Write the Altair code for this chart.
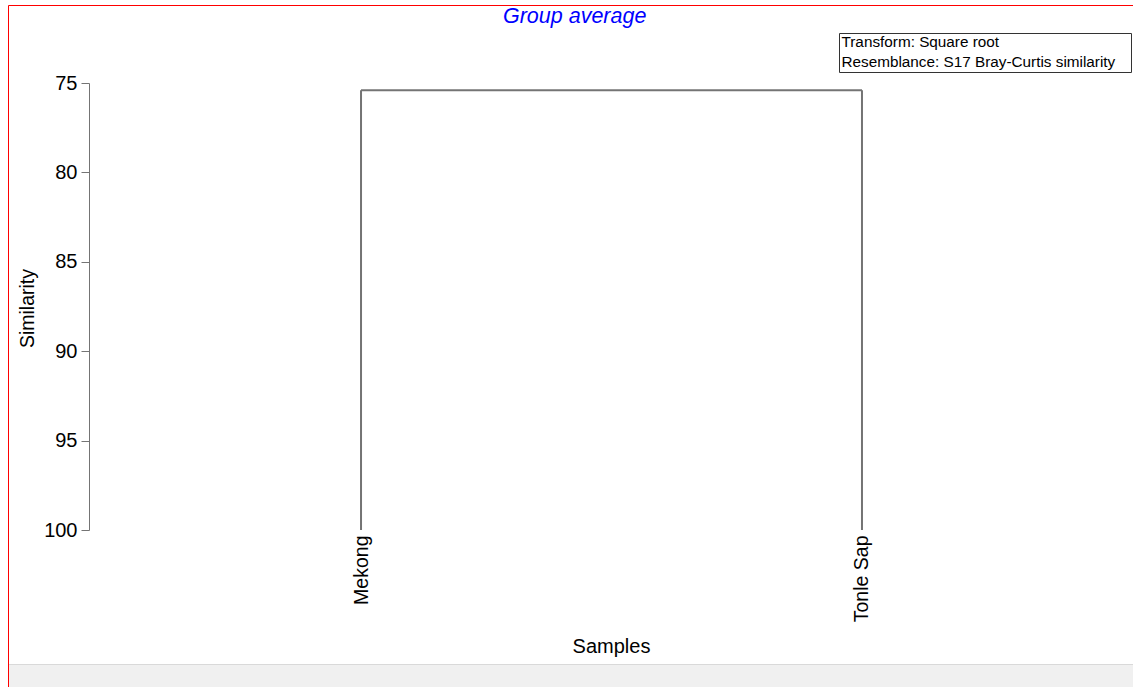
import altair as alt
import pandas as pd

# Dendrogram content
samples = ["Mekong", "Tonle Sap"]
leaf_order = [1, 2]
leaf_similarity = [100, 100]
merge_similarity = 75.4
y_ticks = [75, 80, 85, 90, 95, 100]
legend_lines = ["Transform: Square root", "Resemblance: S17 Bray-Curtis similarity"]
title_text = "Group average"
x_title = "Samples"
y_title = "Similarity"

# Layout (plot area sits at left=89, top=83 inside a 1133x687 canvas)
W, H = 1044, 447
PAD = {"left": 89, "top": 83, "right": 0, "bottom": 157}
FONT = "Liberation Sans"
LINE = "#747474"

stems = pd.DataFrame({
    "sample": samples,
    "pos": leaf_order,
    "low": leaf_similarity,
    "high": [merge_similarity] * len(samples),
})
link = pd.DataFrame({
    "x1": [min(leaf_order)],
    "x2": [max(leaf_order)],
    "sim": [merge_similarity],
})
one = pd.DataFrame({"k": [0]})

x_scale = alt.Scale(domain=[0.457, 2.541], nice=False, zero=False)
y_scale = alt.Scale(domain=[75, 100], reverse=True, nice=False, zero=False)

names = ",".join("'" + s + "'" for s in samples)
positions = ",".join(str(p) for p in leaf_order)
label_expr = f"[{names}][indexof([{positions}], datum.value)]"

x_axis = alt.Axis(
    values=leaf_order, labelExpr=label_expr, labelAngle=270,
    domain=False, ticks=False, grid=False, labelPadding=5,
    labelFont=FONT, labelFontSize=19.5, labelColor="black",
    labelFlush=False, labelOverlap=False,
    title=x_title, titleFont=FONT, titleFontSize=20, titleFontWeight="normal",
    titleColor="black", titleY=122, titleBaseline="alphabetic",
)
y_axis = alt.Axis(
    values=y_ticks, tickSize=8, tickColor=LINE, tickWidth=1,
    domainColor=LINE, domainWidth=1, grid=False,
    labelFont=FONT, labelFontSize=20, labelColor="black", labelPadding=4,
    labelFlush=False,
    title=y_title, titleFont=FONT, titleFontSize=19.5, titleFontWeight="normal",
    titleColor="black", titleAngle=270, titleX=-62, titleY=225,
    titleAlign="center", titleBaseline="middle",
)

# Window frame: red left/top edge and grey status strip
red_left = alt.Chart(one).mark_rule(color="#ff0000", strokeWidth=1).encode(
    x=alt.value(-80.5), y=alt.value(-77.5), y2=alt.value(604))
red_top = alt.Chart(one).mark_rule(color="#ff0000", strokeWidth=1).encode(
    x=alt.value(-80.5), x2=alt.value(1044), y=alt.value(-77.5))
strip = alt.Chart(one).mark_rect(color="#f0f0f0").encode(
    x=alt.value(-80), x2=alt.value(1044), y=alt.value(582), y2=alt.value(604))
strip_line = alt.Chart(one).mark_rule(color="#d9d9d9", strokeWidth=1).encode(
    x=alt.value(-80), x2=alt.value(1044), y=alt.value(581.5))

# Dendrogram branches
stem_layer = alt.Chart(stems).mark_rule(color=LINE, strokeWidth=2).encode(
    x=alt.X("pos:Q", scale=x_scale, axis=x_axis),
    y=alt.Y("low:Q", scale=y_scale, axis=y_axis),
    y2="high:Q",
)
link_layer = alt.Chart(link).mark_rule(color=LINE, strokeWidth=2).encode(
    x=alt.X("x1:Q", scale=x_scale, axis=x_axis),
    x2="x2:Q",
    y=alt.Y("sim:Q", scale=y_scale, axis=y_axis),
)

# Heading
heading = alt.Chart(pd.DataFrame({"t": [title_text]})).mark_text(
    font=FONT, fontSize=21.5, fontStyle="italic", color="#0000ff",
    align="center", baseline="alphabetic",
).encode(text="t:N", x=alt.value(485.7), y=alt.value(-60))

# Settings box
box = alt.Chart(one).mark_rect(fill="white", stroke="#333333", strokeWidth=1).encode(
    x=alt.value(750.5), x2=alt.value(1042.5), y=alt.value(-49.5), y2=alt.value(-10.5))
box_text = [
    alt.Chart(pd.DataFrame({"t": [line]})).mark_text(
        font=FONT, fontSize=15.3, color="black", align="left", baseline="alphabetic",
    ).encode(text="t:N", x=alt.value(752.5), y=alt.value(-36 + 20 * i))
    for i, line in enumerate(legend_lines)
]

chart = alt.layer(
    strip, strip_line, red_left, red_top,
    stem_layer, link_layer, heading, box, *box_text,
).properties(
    width=W, height=H,
    autosize=alt.AutoSizeParams(type="none"),
    padding=PAD,
    background="white",
).configure_view(stroke=None)

chart.save("out.html", embed_options={"renderer": "svg", "actions": False})
